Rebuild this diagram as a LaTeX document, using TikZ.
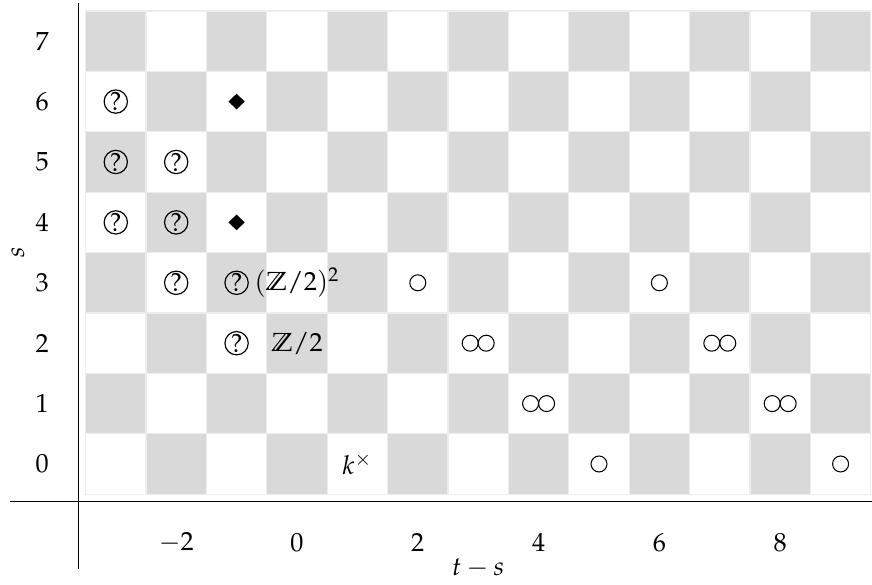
\documentclass[tikz,border=0pt]{standalone}
\usepackage[T1]{fontenc}
\usepackage{mathpazo}
\usepackage{amsmath,amssymb}
\usetikzlibrary{positioning,shapes.geometric}

\begin{document}
\begin{tikzpicture}[x=0.81cm,y=0.81cm,every node/.style={outer sep=0pt},
  qmark/.style={circle,draw,line width=0.45pt,inner sep=0pt,minimum size=8.9pt},
  ring/.style={circle,draw,line width=0.4pt,inner sep=0pt,minimum size=6.1pt},
  lozenge/.style={diamond,fill=black,inner sep=0pt,minimum width=6.2pt,minimum height=6pt},
  ticklab/.style={inner sep=1pt}]
\useasboundingbox (-4.917,-2.003) rectangle (9.520,7.682);

% checkerboard, gray where t = (t-s)+s is even
\foreach \c in {-3,...,9}{
  \foreach \s in {0,...,7}{
    \pgfmathtruncatemacro\p{\c+\s+20}
    \ifodd\p
      \filldraw[fill=white,draw=black!7,line width=0.4pt] (\c-0.5,\s-0.5) rectangle ++(1,1);
    \else
      \filldraw[fill=black!15,draw=black!7,line width=0.4pt] (\c-0.5,\s-0.5) rectangle ++(1,1);
    \fi
  }
}

% axes
\draw[line width=0.4pt] (-4.75,-0.624) -- (9.52,-0.624);
\draw[line width=0.4pt] (-3.618,7.632) -- (-3.618,-1.738);

% row and column labels
\foreach \s in {0,...,7}
  \node[ticklab] (row\s) at (-4.22,\s) {$\s$};
\foreach \c in {-2,0,...,8}
  \node[ticklab] (col\c) at (\c,-1.3) {$\c$};
\node[ticklab,rotate=90] (slab) at (-4.62,3.51) {$s$};
\node[ticklab] (tslab) at (3.0,-1.72) {$t-s$};

% unknown classes
\foreach \c/\s [count=\i] in {-3/6,-3/5,-2/5,-3/4,-2/4,-2/3,-1/3,-1/2}
  \node[qmark] (q\i) at (\c,\s) {?};
% diamonds
\foreach \c/\s [count=\i] in {-1/6,-1/4}
  \node[lozenge] (d\i) at (\c,\s) {};
% single circles
\foreach \c/\s [count=\i] in {2/3,6/3,5/0,9/0}
  \node[ring] (o\i) at (\c,\s) {};
% double circles
\foreach \c/\s [count=\i] in {3/2,7/2,4/1,8/1}{
  \node[ring] (oa\i) at (\c-0.1325,\s) {};
  \node[ring] (ob\i) at (\c+0.1325,\s) {};
}

% named groups
\node (z2sq) at (0,3) {$(\mathbb{Z}/2)^2$};
\node (z2) at (0,2) {$\mathbb{Z}/2$};
\node (kx) at (1,0) {$k^{\times}$};
\end{tikzpicture}
\end{document}
